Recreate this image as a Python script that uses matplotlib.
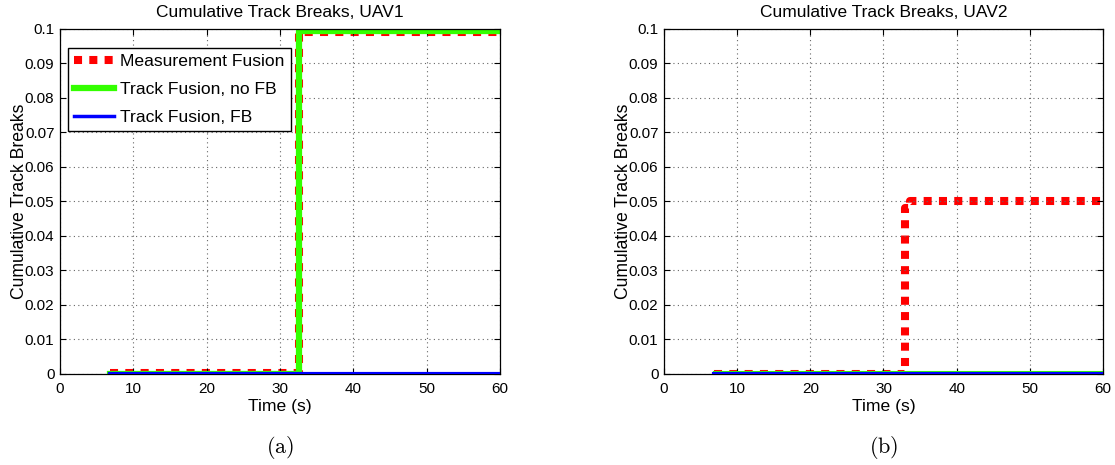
import numpy as np
import matplotlib
matplotlib.use('Agg')
import matplotlib.pyplot as plt

plt.rcParams['font.family'] = ['Liberation Sans', 'DejaVu Sans']
plt.rcParams['mathtext.fontset'] = 'cm'

# UAV1 step data (time in s, cumulative track breaks)
t_mf_1 = [6.8, 32.6, 60]
v_mf_1 = [0.0004, 0.0992, 0.0992]
t_tf_1 = [6.8, 32.65, 60]
v_tf_1 = [0.0001, 0.0995, 0.0995]
t_fb_1 = [6.8, 60]
v_fb_1 = [0.0, 0.0]

# UAV2 step data
t_mf_2 = [6.8, 33.0, 33.6, 60]
v_mf_2 = [0.0, 0.048, 0.05, 0.05]
t_tf_2 = [6.8, 60]
v_tf_2 = [0.0006, 0.0006]
t_fb_2 = [6.8, 60]
v_fb_2 = [0.0, 0.0]

titles = ['Cumulative Track Breaks, UAV1', 'Cumulative Track Breaks, UAV2']
captions = ['(a)', '(b)']

fig = plt.figure(figsize=(11.15, 4.65), dpi=100)
ax1 = fig.add_axes([0.0538, 0.1957, 0.3946, 0.742])
ax2 = fig.add_axes([0.5955, 0.1957, 0.3937, 0.742])

red, green, blue = '#ff0000', '#33ff00', '#0000ff'
mf_style = dict(color=red, lw=5.8, ls=(0, (1, 0.9)), zorder=1)

ax1.step(t_mf_1, v_mf_1, where='post', **mf_style)
ax1.step(t_tf_1, v_tf_1, where='post', color=green, lw=4.5, zorder=2)
ax1.step(t_fb_1, v_fb_1, where='post', color=blue, lw=3, zorder=3)

ax2.step(t_mf_2, v_mf_2, where='post', **mf_style)
ax2.step(t_tf_2, v_tf_2, where='post', color=green, lw=1.5, zorder=2)
ax2.step(t_fb_2, v_fb_2, where='post', color=blue, lw=3, zorder=3)

for ax, title, cap in zip([ax1, ax2], titles, captions):
    ax.set_xlim(0, 60)
    ax.set_ylim(0, 0.1)
    ax.set_xticks(np.arange(0, 61, 10))
    ax.set_yticks(np.arange(0, 0.101, 0.01))
    ax.set_yticklabels(['0'] + ['%.2f' % v for v in np.arange(0.01, 0.095, 0.01)] + ['0.1'])
    ax.tick_params(direction='in', top=True, right=True, labelsize=11, length=4)
    ax.tick_params(axis='x', pad=5.5)
    ax.tick_params(axis='y', pad=4)
    ax.grid(True, ls=(0, (1, 3)), color='#666666', lw=0.8)
    ax.set_title(title, fontsize=12.5, pad=8.5)
    ax.set_xlabel('Time (s)', fontsize=12.6, labelpad=2.5)
    ax.set_ylabel('Cumulative Track Breaks', fontsize=12.7, labelpad=-2)
    for s in ax.spines.values():
        s.set_linewidth(0.9)
    ax.text(0.5, -0.212, r'$\mathrm{%s}$' % cap, transform=ax.transAxes,
            ha='center', va='center', fontsize=16)

# legend proxies
h1, = ax1.plot([], [], color=red, lw=5.8, ls=(0, (1, 0.9)), label='Measurement Fusion')
h2, = ax1.plot([], [], color=green, lw=4.5, label='Track Fusion, no FB')
h3, = ax1.plot([], [], color=blue, lw=2.5, label='Track Fusion, FB')
leg = ax1.legend(handles=[h1, h2, h3], loc='upper left', bbox_to_anchor=(0.018, 0.945),
                 fontsize=12.6, fancybox=False, edgecolor='black', framealpha=1,
                 handlelength=2.3, borderpad=0.35, labelspacing=0.72, handletextpad=0.35,
                 borderaxespad=0)
leg.get_frame().set_linewidth(1.0)

fig.savefig('out.png', dpi=100)
